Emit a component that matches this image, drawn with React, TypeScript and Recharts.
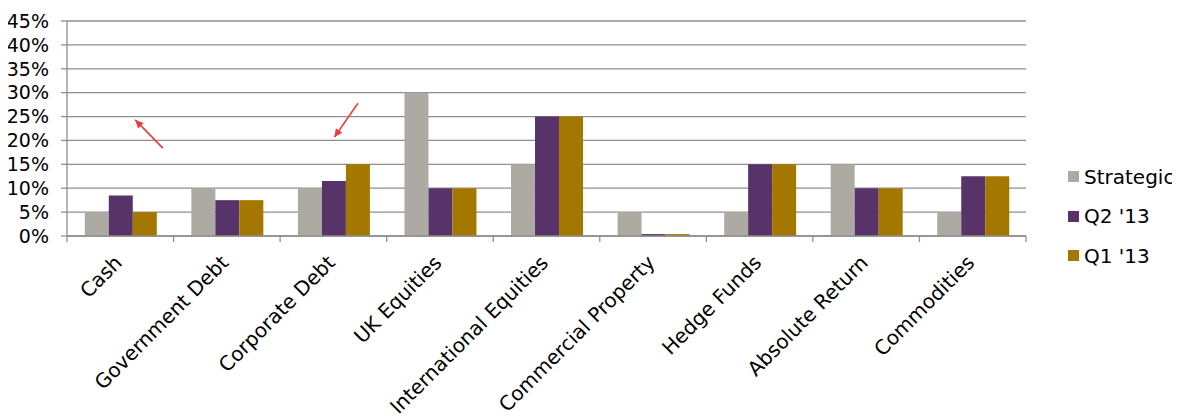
import React from "react";
import {
  BarChart,
  Bar,
  XAxis,
  YAxis,
  CartesianGrid,
  Legend,
  ReferenceLine,
} from "recharts";

const categories = [
  "Cash",
  "Government Debt",
  "Corporate Debt",
  "UK Equities",
  "International Equities",
  "Commercial Property",
  "Hedge Funds",
  "Absolute Return",
  "Commodities",
];
const strategic = [5, 10, 10, 30, 15, 5, 5, 15, 5];
const q2_13 = [8.5, 7.5, 11.5, 10, 25, 0.4, 15, 10, 12.5];
const q1_13 = [5, 7.5, 15, 10, 25, 0.4, 15, 10, 12.5];
const yTicks = [0, 5, 10, 15, 20, 25, 30, 35, 40, 45];

// red annotation arrows, [tail, head] in (category position, %) units
const arrows = [
  [{ x: 0.9, y: 18.4 }, { x: 0.64, y: 24.3 }],
  [{ x: 2.73, y: 27.8 }, { x: 2.51, y: 20.7 }],
];

const series = [
  { key: "strategic", name: "Strategic", color: "#ADA9A3" },
  { key: "q2", name: "Q2 '13", color: "#58336A" },
  { key: "q1", name: "Q1 '13", color: "#A47800" },
];

const rows = categories.map((c, i) => ({
  name: c,
  pos: i + 0.5,
  strategic: strategic[i],
  q2: q2_13[i],
  q1: q1_13[i],
}));

const FONT = "'DejaVu Sans', sans-serif";
const GRID = "#8f8f8f";

function CatTick(props: any) {
  const { x, y, payload } = props;
  const half = payload.offset || 0;
  const last = payload.index === categories.length - 1;
  return (
    <g>
      <line x1={x - half} y1={y} x2={x - half} y2={y + 6} stroke={GRID} strokeWidth={1.3} />
      {last && (
        <line x1={x + half} y1={y} x2={x + half} y2={y + 6} stroke={GRID} strokeWidth={1.3} />
      )}
      <g transform={`translate(${x + 3},${y + 28})`}>
        <text
          x={0}
          y={0}
          textAnchor="end"
          transform="rotate(-45)"
          fontSize={20}
          fontFamily={FONT}
          fill="#000"
        >
          {payload.value}
        </text>
      </g>
    </g>
  );
}

function ArrowShape(props: any) {
  const { x1, y1, x2, y2 } = props;
  const ang = Math.atan2(y2 - y1, x2 - x1);
  const len = 9;
  const w = 0.45;
  const p1 = `${x2},${y2}`;
  const p2 = `${x2 - len * Math.cos(ang - w)},${y2 - len * Math.sin(ang - w)}`;
  const p3 = `${x2 - len * Math.cos(ang + w)},${y2 - len * Math.sin(ang + w)}`;
  return (
    <g>
      <line x1={x1} y1={y1} x2={x2} y2={y2} stroke="#f03a3a" strokeWidth={1.6} />
      <polygon points={`${p1} ${p2} ${p3}`} fill="#f03a3a" />
    </g>
  );
}

function LegendBox() {
  return (
    <div style={{ fontFamily: FONT, fontSize: 20, color: "#000" }}>
      {series.map((s) => (
        <div
          key={s.key}
          style={{ display: "flex", alignItems: "center", height: 39.5 }}
        >
          <span
            style={{
              display: "inline-block",
              width: 11,
              height: 11,
              background: s.color,
              marginRight: 5,
            }}
          />
          <span>{s.name}</span>
        </div>
      ))}
    </div>
  );
}

export default function App() {
  return (
    <div style={{ width: 1164, height: 411, fontFamily: FONT }}>
      <BarChart
        width={1164}
        height={411}
        data={rows}
        margin={{ top: 13, right: 146, bottom: 0, left: 0 }}
        barCategoryGap="16.7%"
        barGap={0}
      >
        <CartesianGrid vertical={false} stroke={GRID} strokeWidth={1.3} />
        <XAxis
          dataKey="name"
          interval={0}
          height={183}
          axisLine={{ stroke: GRID, strokeWidth: 1.3 }}
          tickLine={false}
          tickSize={0}
          tickMargin={0}
          tick={<CatTick />}
        />
        <XAxis
          xAxisId="num"
          dataKey="pos"
          type="number"
          domain={[0, 9]}
          allowDataOverflow
          hide
        />
        <YAxis
          domain={[0, 45]}
          ticks={yTicks}
          width={59}
          tickSize={6}
          tickMargin={12}
          tickFormatter={(v: number) => `${v}%`}
          tick={{ fontSize: 19, fill: "#000", fontFamily: FONT }}
          axisLine={{ stroke: GRID, strokeWidth: 1.3 }}
          tickLine={{ stroke: GRID, strokeWidth: 1.3 }}
          interval={0}
        />
        <Legend
          layout="vertical"
          align="center"
          verticalAlign="middle"
          content={<LegendBox />}
          wrapperStyle={{ left: 1060, top: 149, width: 110 }}
        />
        {series.map((s) => (
          <Bar
            key={s.key}
            dataKey={s.key}
            name={s.name}
            fill={s.color}
            isAnimationActive={false}
          />
        ))}
        {arrows.map((seg, i) => (
          <ReferenceLine
            key={i}
            xAxisId="num"
            segment={seg}
            ifOverflow="visible"
            shape={<ArrowShape />}
          />
        ))}
      </BarChart>
    </div>
  );
}
